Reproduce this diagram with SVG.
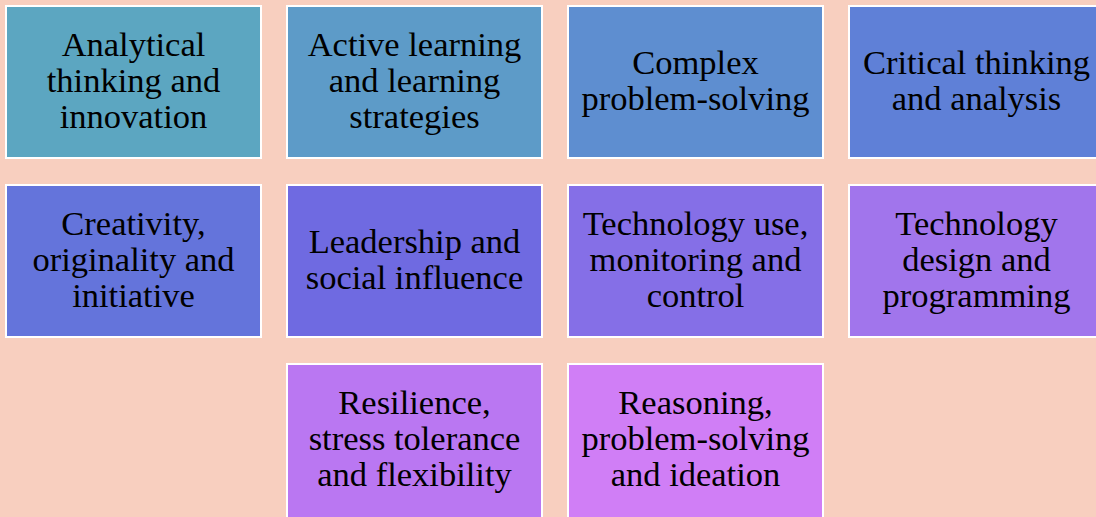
<svg xmlns="http://www.w3.org/2000/svg" width="1096" height="517" viewBox="0 0 1096 517">
<style>
.b{stroke:#ffffff;stroke-width:2}
.t{font-family:"Liberation Serif","Times New Roman",serif;font-size:34.5px;fill:#000;text-anchor:middle}
</style>
<rect x="0" y="0" width="1096" height="517" fill="#F8CFBF"/>
<g id="n1"><rect class="b" x="6" y="6" width="255" height="152" fill="#5CA6C1"/><text class="t" x="133.5" y="56">Analytical</text><text class="t" x="133.5" y="92">thinking and</text><text class="t" x="133.5" y="128">innovation</text></g>
<g id="n2"><rect class="b" x="287" y="6" width="255" height="152" fill="#5D9BC8"/><text class="t" x="414.5" y="56">Active learning</text><text class="t" x="414.5" y="92">and learning</text><text class="t" x="414.5" y="128">strategies</text></g>
<g id="n3"><rect class="b" x="568" y="6" width="255" height="152" fill="#5E8ED0"/><text class="t" x="695.5" y="74">Complex</text><text class="t" x="695.5" y="110">problem-solving</text></g>
<g id="n4"><rect class="b" x="849" y="6" width="255" height="152" fill="#5F80D7"/><text class="t" x="976.5" y="74">Critical thinking</text><text class="t" x="976.5" y="110">and analysis</text></g>
<g id="n5"><rect class="b" x="6" y="185" width="255" height="152" fill="#6474DB"/><text class="t" x="133.5" y="235">Creativity,</text><text class="t" x="133.5" y="271">originality and</text><text class="t" x="133.5" y="307">initiative</text></g>
<g id="n6"><rect class="b" x="287" y="185" width="255" height="152" fill="#6F6AE1"/><text class="t" x="414.5" y="253">Leadership and</text><text class="t" x="414.5" y="289">social influence</text></g>
<g id="n7"><rect class="b" x="568" y="185" width="255" height="152" fill="#856FE7"/><text class="t" x="695.5" y="235">Technology use,</text><text class="t" x="695.5" y="271">monitoring and</text><text class="t" x="695.5" y="307">control</text></g>
<g id="n8"><rect class="b" x="849" y="185" width="255" height="152" fill="#A175EC"/><text class="t" x="976.5" y="235">Technology</text><text class="t" x="976.5" y="271">design and</text><text class="t" x="976.5" y="307">programming</text></g>
<g id="n9"><rect class="b" x="287" y="364" width="255" height="160" fill="#BA77F2"/><text class="t" x="414.5" y="414">Resilience,</text><text class="t" x="414.5" y="450">stress tolerance</text><text class="t" x="414.5" y="486">and flexibility</text></g>
<g id="n10"><rect class="b" x="568" y="364" width="255" height="160" fill="#D07EF6"/><text class="t" x="695.5" y="414">Reasoning,</text><text class="t" x="695.5" y="450">problem-solving</text><text class="t" x="695.5" y="486">and ideation</text></g>
<g id="connectors"></g>
</svg>
